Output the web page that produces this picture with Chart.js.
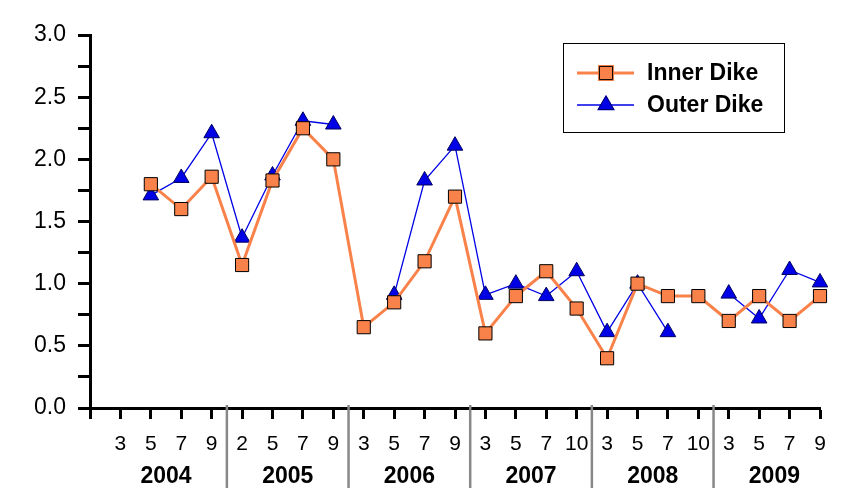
<!DOCTYPE html>
<html>
<head>
<meta charset="utf-8">
<script src="https://cdn.jsdelivr.net/npm/chart.js@4"></script>
<style>
  body { margin: 0; background: #fff; }
</style>
</head>
<body>
<canvas id="myChart" width="867" height="503"></canvas>
<script>
const years = ['2004', '2005', '2006', '2007', '2008', '2009']
const months = [
  ['3', '5', '7', '9'],
  ['2', '5', '7', '9'],
  ['3', '5', '7', '9'],
  ['3', '5', '7', '10'],
  ['3', '5', '7', '10'],
  ['3', '5', '7', '9']
]
const innerDike = [null, 1.8, 1.6, 1.86,  1.15, 1.83, 2.25, 2.0,  0.65, 0.85, 1.18, 1.7,
                   0.6, 0.9, 1.1, 0.8,  0.4, 1.0, 0.9, 0.9,  0.7, 0.9, 0.7, 0.9]
const outerDike = [null, 1.71, 1.85, 2.21,  1.37, 1.87, 2.31, 2.28,  null, 0.91, 1.83, 2.11,
                   0.91, 1.0, 0.9, 1.1,  0.61, 1.0, 0.61, null,  0.92, 0.72, 1.11, 1.01]

// leading blank slot so the first month sits one step right of the y axis
const labels = [''].concat(...months)

const orange = '#F9824A'
const blue = '#0000E6'
const font = 'Liberation Sans, Arial, sans-serif'

const yearAxis = {
  id: 'yearAxis',
  afterDraw(chart) {
    const ctx = chart.ctx
    const x = chart.scales.x
    const top = chart.chartArea.bottom
    ctx.save()
    let idx = 1
    years.forEach((yr, g) => {
      const first = idx
      const last = idx + months[g].length - 1
      const cx = (x.getPixelForValue(first) + x.getPixelForValue(last)) / 2
      ctx.fillStyle = '#000'
      ctx.font = 'bold 23px ' + font
      ctx.textAlign = 'center'
      ctx.textBaseline = 'middle'
      ctx.fillText(yr, cx, 477)
      if (g < years.length - 1) {
        const sx = (x.getPixelForValue(last) + x.getPixelForValue(last + 1)) / 2
        ctx.strokeStyle = '#888'
        ctx.lineWidth = 2.5
        ctx.beginPath()
        ctx.moveTo(sx, top - 3)
        ctx.lineTo(sx, 488)
        ctx.stroke()
      }
      idx = last + 1
    })
    ctx.restore()
  }
}

const boxLegend = {
  id: 'boxLegend',
  afterDraw(chart) {
    const ctx = chart.ctx
    const bx = 563, by = 43, bw = 221, bh = 89
    ctx.save()
    ctx.strokeStyle = '#000'
    ctx.lineWidth = 1
    ctx.strokeRect(bx + 0.5, by + 0.5, bw, bh)
    chart.data.datasets.forEach((ds, i) => {
      const y = 73 + i * 32
      ctx.strokeStyle = ds.borderColor
      ctx.lineWidth = ds.borderWidth
      ctx.beginPath()
      ctx.moveTo(577, y)
      ctx.lineTo(634, y)
      ctx.stroke()
      Chart.helpers.drawPoint(ctx, {
        pointStyle: ds.pointStyle,
        radius: ds.pointRadius,
        borderWidth: ds.pointBorderWidth
      }, 606, y)
      ctx.fillStyle = ds.pointBackgroundColor
      ctx.strokeStyle = ds.pointBorderColor
      ctx.lineWidth = ds.pointBorderWidth
      ctx.fill()
      ctx.stroke()
      ctx.fillStyle = '#000'
      ctx.font = 'bold 23px ' + font
      ctx.textAlign = 'left'
      ctx.textBaseline = 'middle'
      ctx.fillText(ds.label, 647, y + 1)
    })
    ctx.restore()
  }
}

const ctx = document.getElementById('myChart')

new Chart(ctx, {
  type: 'line',
  data: {
    labels: labels,
    datasets: [{
      label: 'Inner Dike',
      data: [null].concat(innerDike),
      borderColor: orange,
      borderWidth: 3,
      pointStyle: 'rect',
      pointRadius: 9.3,
      pointBackgroundColor: orange,
      pointBorderColor: '#000',
      pointBorderWidth: 1,
      spanGaps: false,
      clip: false
    }, {
      label: 'Outer Dike',
      data: [null].concat(outerDike),
      borderColor: blue,
      borderWidth: 1.3,
      pointStyle: 'triangle',
      pointRadius: 9,
      pointBackgroundColor: blue,
      pointBorderColor: '#000060',
      pointBorderWidth: 1,
      spanGaps: false,
      clip: false
    }]
  },
  options: {
    responsive: false,
    animation: false,
    devicePixelRatio: 1,
    layout: { padding: { top: 35, right: 47, left: 0, bottom: 0 } },
    plugins: {
      legend: { display: false },
      tooltip: { enabled: false }
    },
    scales: {
      x: {
        offset: false,
        afterFit(s) { s.height = 95 },
        border: { color: '#000', width: 3 },
        grid: { drawOnChartArea: false, tickLength: 11, tickWidth: 3, tickColor: '#000' },
        ticks: {
          autoSkip: false,
          maxRotation: 0,
          padding: 13,
          color: '#000',
          font: { family: font, size: 21 }
        }
      },
      y: {
        min: 0,
        max: 3,
        afterFit(s) { s.width = 90 },
        border: { color: '#000', width: 3 },
        grid: { drawOnChartArea: false, tickLength: 12, tickWidth: 3, tickColor: '#000' },
        ticks: {
          stepSize: 0.25,
          padding: 12,
          color: '#000',
          font: { family: font, size: 23 },
          callback: v => (Math.abs(v * 2 - Math.round(v * 2)) < 1e-6 ? v.toFixed(1) : '')
        }
      }
    }
  },
  plugins: [yearAxis, boxLegend]
})
</script>
</body>
</html>
